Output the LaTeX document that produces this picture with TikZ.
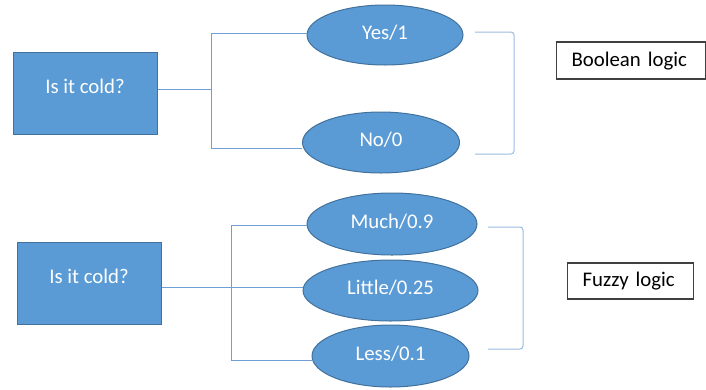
\documentclass[tikz,border=0pt]{standalone}
\usepackage{fontspec}
\setmainfont{Carlito}
\usetikzlibrary{shapes.geometric}
\definecolor{fillblue}{HTML}{5B9BD5}
\definecolor{edgeblue}{HTML}{41719C}
\definecolor{lineblue}{HTML}{6F9FD6}
\definecolor{brackblue}{HTML}{9BBAE0}
\begin{document}
\begin{tikzpicture}[x=1pt,y=-1pt,
  qbox/.style={rectangle, draw=edgeblue, fill=fillblue, line width=1pt, text=white,
    minimum width=144pt, minimum height=82pt, inner sep=0pt, text height=0pt, text depth=0pt},
  oval/.style={ellipse, draw=edgeblue, fill=fillblue, line width=1pt, text=white,
    inner sep=0pt, text height=8pt, text depth=0pt},
  tag/.style={rectangle, draw=black!75, line width=1.2pt, inner xsep=15pt, inner ysep=0pt,
    anchor=west, align=left, text height=11pt, text depth=0pt},
  conn/.style={draw=lineblue, line width=1pt},
  bracket/.style={draw=brackblue, line width=1pt, rounded corners=3pt},
  font=\fontsize{20.8}{24}\selectfont]
\useasboundingbox (0,0) rectangle (706,389);

% Boolean part
\node[qbox] (q1) at (85,93) {Is it cold?};
\node[oval, minimum width=156pt, minimum height=60pt] (yes) at (385,35) {Yes/1};
\node[oval, minimum width=157pt, minimum height=61pt] (no) at (381,142.5) {No/0};
\node[tag, text width=119pt, minimum width=149pt, minimum height=37pt] (bool) at (556,60.5) {Boolean logic};

\draw[conn] ([yshift=4pt]q1.east) -- (211,89) coordinate (j1);
\draw[conn] (j1) |- ([yshift=2pt]yes.west);
\draw[conn] (j1) |- ([yshift=-5.5pt]no.west);

\coordinate (b1a) at (475,32);
\coordinate (b1b) at (475,154);
\draw[bracket] (b1a) -- (514,32) -- (514,154) -- (b1b);

% Fuzzy part
\node[qbox] (q2) at (89,283) {Is it cold?};
\node[oval, minimum width=170pt, minimum height=62pt] (much) at (392,224) {Much/0.9};
\node[oval, minimum width=175pt, minimum height=61pt] (little) at (390.5,290.5) {Little/0.25};
\node[oval, minimum width=157pt, minimum height=62pt] (less) at (390.5,356) {Less/0.1};
\node[tag, text width=96pt, minimum width=126pt, minimum height=36pt] (fuzzy) at (567,281) {Fuzzy logic};

\draw[conn] ([yshift=-4pt]q2.east) -- (231,287) coordinate (j2);
\draw[conn] (j2) |- ([yshift=-1pt]much.west);
\draw[conn] (j2) -- (j2 -| little.west);
\draw[conn] (j2) |- ([yshift=-4pt]less.west);

\coordinate (b2a) at (488,227);
\coordinate (b2b) at (488,349);
\draw[bracket] (b2a) -- (523,227) -- (523,349) -- (b2b);
\end{tikzpicture}
\end{document}
